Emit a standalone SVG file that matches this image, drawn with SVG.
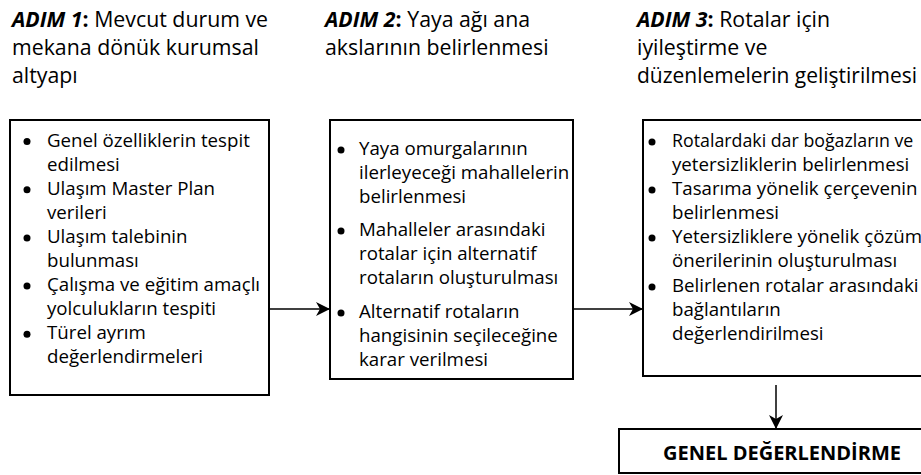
<svg xmlns="http://www.w3.org/2000/svg" width="921" height="475" viewBox="0 0 921 475">
<style>
text{font-family:"Open Sans","Noto Sans","Liberation Sans",sans-serif;fill:#000}
.t{font-size:21.3px}
.b{font-size:18.7px}
.g{font-size:20px;font-weight:bold}
.bi{font-weight:bold;font-style:italic}
.bd{font-weight:bold}
.box{fill:#fff;stroke:#000;stroke-width:2}
.con{stroke:#000;stroke-width:1.5;fill:none}
.dot{fill:#000}
</style>
<defs>
<marker id="ah" markerUnits="userSpaceOnUse" markerWidth="18" markerHeight="18" viewBox="-16 -9 18 18" refX="0" refY="0" orient="auto">
<path d="M0,0 L-14,-7 L-10,0 L-14,7 Z" fill="#000"/>
</marker>
</defs>
<g id="titles">
<text class="t" x="12" y="27"><tspan class="bi">ADIM 1</tspan><tspan class="bd">:</tspan> Mevcut durum ve</text>
<text class="t" x="12" y="55">mekana dönük kurumsal</text>
<text class="t" x="12" y="83">altyapı</text>
<text class="t" x="325" y="27"><tspan class="bi">ADIM 2</tspan><tspan class="bd">:</tspan> Yaya ağı ana</text>
<text class="t" x="325" y="55">akslarının belirlenmesi</text>
<text class="t" x="637" y="27"><tspan class="bi">ADIM 3</tspan><tspan class="bd">:</tspan> Rotalar için</text>
<text class="t" x="637" y="55">iyileştirme ve</text>
<text class="t" x="637" y="83" textLength="280" lengthAdjust="spacingAndGlyphs">düzenlemelerin geliştirilmesi</text>
</g>
<g id="node1">
<rect class="box" x="10" y="120" width="259" height="275"/>
<circle class="dot" cx="27" cy="141.5" r="3.5"/>
<circle class="dot" cx="27" cy="189.7" r="3.5"/>
<circle class="dot" cx="27" cy="237.9" r="3.5"/>
<circle class="dot" cx="27" cy="286.1" r="3.5"/>
<circle class="dot" cx="27" cy="334.3" r="3.5"/>
<text class="b" x="47" y="146.5">Genel özelliklerin tespit</text>
<text class="b" x="47" y="170.6">edilmesi</text>
<text class="b" x="47" y="194.7">Ulaşım Master Plan</text>
<text class="b" x="47" y="218.8">verileri</text>
<text class="b" x="47" y="242.9">Ulaşım talebinin</text>
<text class="b" x="47" y="267">bulunması</text>
<text class="b" x="47" y="291.1">Çalışma ve eğitim amaçlı</text>
<text class="b" x="47" y="315.2">yolculukların tespiti</text>
<text class="b" x="47" y="339.3">Türel ayrım</text>
<text class="b" x="47" y="363.4">değerlendirmeleri</text>
</g>
<g id="node2">
<rect class="box" x="330" y="120" width="243" height="259"/>
<circle class="dot" cx="341" cy="150" r="3.5"/>
<circle class="dot" cx="341" cy="231" r="3.5"/>
<circle class="dot" cx="341" cy="313" r="3.5"/>
<text class="b" x="359" y="155">Yaya omurgalarının</text>
<text class="b" x="359" y="179">ilerleyeceği mahallelerin</text>
<text class="b" x="359" y="203">belirlenmesi</text>
<text class="b" x="359" y="236">Mahalleler arasındaki</text>
<text class="b" x="359" y="260">rotalar için alternatif</text>
<text class="b" x="359" y="284">rotaların oluşturulması</text>
<text class="b" x="359" y="318">Alternatif rotaların</text>
<text class="b" x="359" y="342">hangisinin seçileceğine</text>
<text class="b" x="359" y="366">karar verilmesi</text>
</g>
<g id="node3">
<rect class="box" x="643" y="120" width="290" height="256"/>
<circle class="dot" cx="652" cy="142" r="3.5"/>
<circle class="dot" cx="652" cy="190" r="3.5"/>
<circle class="dot" cx="652" cy="238" r="3.5"/>
<circle class="dot" cx="652" cy="287" r="3.5"/>
<text class="b" x="672" y="147" style="font-size:17.8px">Rotalardaki dar boğazların ve</text>
<text class="b" x="672" y="171">yetersizliklerin belirlenmesi</text>
<text class="b" x="672" y="195">Tasarıma yönelik çerçevenin</text>
<text class="b" x="672" y="219">belirlenmesi</text>
<text class="b" x="672" y="243">Yetersizliklere yönelik çözüm</text>
<text class="b" x="672" y="267">önerilerinin oluşturulması</text>
<text class="b" x="672" y="292">Belirlenen rotalar arasındaki</text>
<text class="b" x="672" y="316">bağlantıların</text>
<text class="b" x="672" y="340">değerlendirilmesi</text>
</g>
<g id="node4">
<rect class="box" x="619" y="429" width="320" height="44"/>
<text class="g" x="663" y="460">GENEL DEĞERLENDİRME</text>
</g>
<g id="connectors">
<line class="con" x1="269" y1="309" x2="330" y2="309" marker-end="url(#ah)"/>
<line class="con" x1="573" y1="309" x2="643" y2="309" marker-end="url(#ah)"/>
<line class="con" x1="776" y1="385" x2="776" y2="429" marker-end="url(#ah)"/>
</g>
</svg>
